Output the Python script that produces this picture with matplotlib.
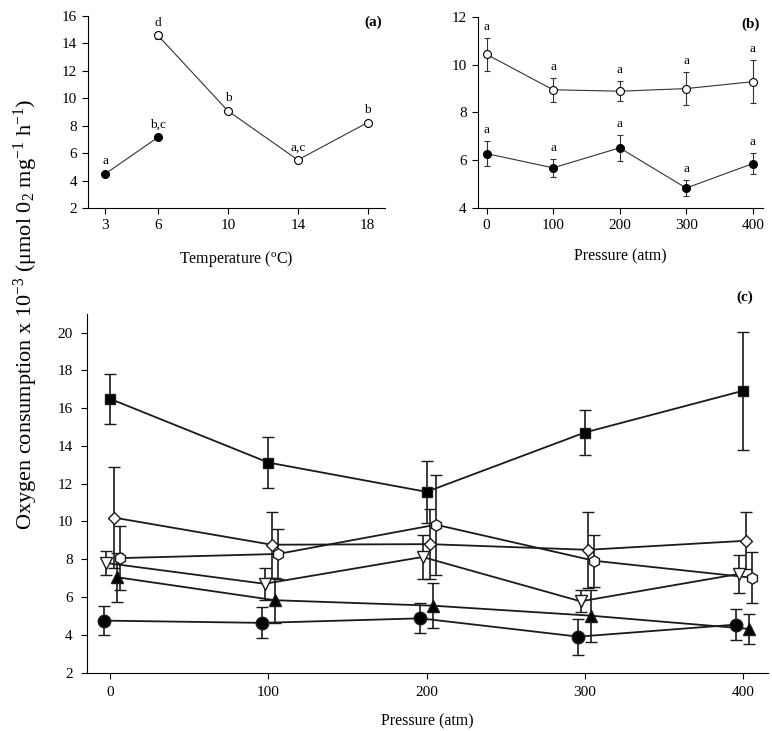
# oxygen consumption vs temperature and pressure, three panels

import matplotlib
matplotlib.use("Agg")
import matplotlib.pyplot as plt

plt.rcParams['font.family'] = ['Liberation Serif', 'DejaVu Serif']
plt.rcParams['mathtext.fontset'] = 'custom'
plt.rcParams['mathtext.rm'] = 'Liberation Serif'
plt.rcParams['mathtext.it'] = 'Liberation Serif:italic'
plt.rcParams['mathtext.bf'] = 'Liberation Serif:bold'

# panel (a): temperature
temp_cold = [3, 6]
o2_cold = [4.5, 7.15]
err_cold = [0.1, 0.15]
letters_cold = ['a', 'b,c']

temp_warm = [6, 10, 14, 18]
o2_warm = [14.58, 9.08, 5.5, 8.23]
err_warm = [0.25, 0.1, 0.12, 0.1]
letters_warm = ['d', 'b', 'a,c', 'b']

# panel (b): pressure
press_b = [0, 100, 200, 300, 400]
o2_open_b = [10.44, 8.95, 8.89, 9.0, 9.29]
err_open_b = [0.7, 0.5, 0.43, 0.7, 0.9]
o2_fill_b = [6.27, 5.67, 6.51, 4.82, 5.85]
err_fill_b = [0.52, 0.37, 0.54, 0.33, 0.45]
letters_b = ['a', 'a', 'a', 'a', 'a']

# panel (c): pressure, six series
press_c = [0, 100, 200, 300, 400]
sq_vals = [16.49, 13.12, 11.57, 14.71, 16.92]
sq_err = [1.3, 1.35, 1.63, 1.17, 3.13]
dia_vals = [10.21, 8.77, 8.8, 8.5, 8.98]
dia_err = [2.65, 1.75, 1.86, 2.0, 1.5]
hex_vals = [8.06, 8.28, 9.83, 7.92, 7.02]
hex_err = [1.68, 1.3, 2.65, 1.38, 1.34]
tdown_vals = [7.8, 6.7, 8.12, 5.77, 7.22]
tdown_err = [0.65, 0.85, 1.15, 0.58, 1.02]
tup_vals = [7.05, 5.83, 5.54, 5.01, 4.31]
tup_err = [1.3, 1.2, 1.2, 1.37, 0.81]
circ_vals = [4.75, 4.63, 4.87, 3.9, 4.54]
circ_err = [0.76, 0.82, 0.8, 0.96, 0.82]


def style_axes(ax, pad=4):
    for s in ['top', 'right']:
        ax.spines[s].set_visible(False)
    ax.tick_params(direction='out', labelsize=11, length=4, pad=pad)


fig = plt.figure(figsize=(7.72, 7.31), dpi=100)

# ---- panel (a)
ax_a = fig.add_axes([0.114, 0.7155, 0.385, 0.2627])
kw_ab = dict(color='#333333', lw=0.8, capsize=2.5, elinewidth=0.8, capthick=0.8,
             ms=5.7, mec='black', mew=0.8)
ax_a.errorbar(temp_cold, o2_cold, yerr=err_cold, fmt='-o', mfc='black', **kw_ab)
ax_a.errorbar(temp_warm, o2_warm, yerr=err_warm, fmt='-o', mfc='white', **kw_ab)
for x, y, t in zip(temp_cold + temp_warm, o2_cold + o2_warm, letters_cold + letters_warm):
    ax_a.annotate(t, (x, y), xytext=(0, 9), textcoords='offset points',
                  ha='center', va='center', fontsize=9.5)
ax_a.set_xlim(2, 19)
ax_a.set_ylim(2, 16)
ax_a.set_xticks([3, 6, 10, 14, 18])
ax_a.set_yticks(range(2, 17, 2))
ax_a.set_xlabel(r'Temperature ($^{\mathrm{o}}$C)', fontsize=11.5, labelpad=12)
ax_a.text(0.99, 1.0, '(a)', transform=ax_a.transAxes, ha='right', va='top',
          fontsize=11, fontweight='bold')
style_axes(ax_a)

# ---- panel (b)
ax_b = fig.add_axes([0.619, 0.716, 0.369, 0.2605])
ax_b.errorbar(press_b, o2_open_b, yerr=err_open_b, fmt='-o', mfc='white', **kw_ab)
ax_b.errorbar(press_b, o2_fill_b, yerr=err_fill_b, fmt='-o', mfc='black', **kw_ab)
for vals, errs in [(o2_open_b, err_open_b), (o2_fill_b, err_fill_b)]:
    for x, y, e, t in zip(press_b, vals, errs, letters_b):
        ax_b.annotate(t, (x, y + e), xytext=(0, 8), textcoords='offset points',
                      ha='center', va='center', fontsize=9.5)
ax_b.set_xlim(-13, 415)
ax_b.set_ylim(4, 12)
ax_b.set_xticks(press_b)
ax_b.set_yticks(range(4, 13, 2))
ax_b.set_xlabel('Pressure (atm)', fontsize=11.5, labelpad=12)
ax_b.text(0.99, 1.0, '(b)', transform=ax_b.transAxes, ha='right', va='top',
          fontsize=11, fontweight='bold')
style_axes(ax_b)

# ---- panel (c)
ax_c = fig.add_axes([0.1123, 0.080, 0.8825, 0.4907])
series_c = [
    (sq_vals, sq_err, 's', 'black', 0, 6.5),
    (dia_vals, dia_err, 'D', 'white', 2, 6.3),
    (hex_vals, hex_err, 'h', 'white', 6, 8.2),
    (tdown_vals, tdown_err, 'v', 'white', -2.5, 8.0),
    (tup_vals, tup_err, '^', 'black', 4, 8.0),
    (circ_vals, circ_err, 'o', 'black', -4, 9.0),
]
for vals, errs, mk, fc, dx, ms in series_c:
    xs = [p + dx for p in press_c]
    ax_c.errorbar(xs, vals, yerr=errs, fmt='-' + mk, color='#1a1a1a', lw=1.3,
                  elinewidth=1.2, capsize=4, capthick=1.2, ms=ms, mfc=fc,
                  mec='#1a1a1a', mew=1.0)
ax_c.set_xlim(-15, 416)
ax_c.set_ylim(2, 21)
ax_c.set_xticks(press_c)
ax_c.set_yticks(range(2, 21, 2))
ax_c.set_xlabel('Pressure (atm)', fontsize=11.5, labelpad=10)
style_axes(ax_c, pad=6)
fig.text(0.965, 0.594, '(c)', ha='center', va='center', fontsize=11, fontweight='bold')

fig.text(0.033, 0.57,
         r'Oxygen consumption x 10$^{-3}$ ($\mathrm{\mu}$mol 0$_{2}$ mg$^{-1}$ h$^{-1}$)',
         rotation=90, ha='center', va='center', fontsize=16)

fig.savefig('out.png', dpi=100)
